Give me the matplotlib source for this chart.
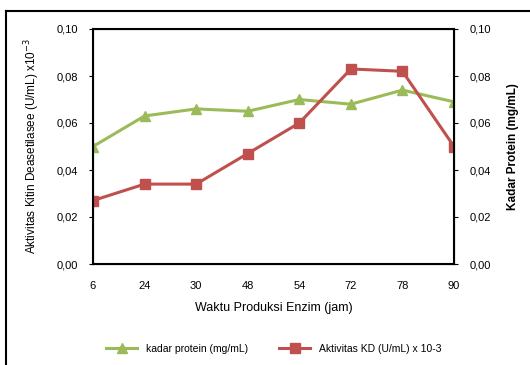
import matplotlib
matplotlib.use("Agg")
import matplotlib.pyplot as plt
from matplotlib.lines import Line2D

plt.rcParams['font.family'] = ['Liberation Sans', 'DejaVu Sans']

# data
jam = ['6', '24', '30', '48', '54', '72', '78', '90']
kadar_protein = [0.050, 0.063, 0.066, 0.065, 0.070, 0.068, 0.074, 0.069]
aktivitas_kd = [0.027, 0.034, 0.034, 0.047, 0.060, 0.083, 0.082, 0.050]
yticks = [0.00, 0.02, 0.04, 0.06, 0.08, 0.10]
ytick_labels = ['0,00', '0,02', '0,04', '0,06', '0,08', '0,10']

green = '#9BBB59'
red = '#C0504D'

fig = plt.figure(figsize=(5.3, 3.65), dpi=100)
# outer frame: only the top and left edges are inside the scan
top = 1 - 11 / 365
left = 6 / 530
fig.add_artist(Line2D([left, 1.0], [top, top], transform=fig.transFigure,
                      color='black', linewidth=1.5))
fig.add_artist(Line2D([left, left], [0.0, top], transform=fig.transFigure,
                      color='black', linewidth=1.5))

ax = fig.add_axes([93 / 530, 101 / 365, 361 / 530, 235 / 365])
x = range(len(jam))
ax.plot(x, kadar_protein, color=green, marker='^', markersize=7, linewidth=2.2,
        label='kadar protein (mg/mL)')
ax.plot(x, aktivitas_kd, color=red, marker='s', markersize=7, linewidth=2.2,
        label='Aktivitas KD (U/mL) x 10-3')

ax.set_xlim(0, len(jam) - 1)
ax.set_ylim(0, 0.10)
ax.set_xticks(list(x))
ax.set_xticklabels(jam, fontsize=8)
ax.set_yticks(yticks)
ax.set_yticklabels(ytick_labels, fontsize=8)
ax.tick_params(axis='x', length=0, pad=12)
ax.tick_params(axis='y', length=3, pad=8)
for s in ax.spines.values():
    s.set_linewidth(1.5)
ax.set_xlabel('Waktu Produksi Enzim (jam)', fontsize=9, labelpad=8)
ax.set_ylabel('Aktivitas Kitin Deasetilasee (U/mL) x10$^{-3}$', fontsize=8.5, labelpad=10)

ax2 = ax.twinx()
ax2.set_ylim(0, 0.10)
ax2.set_yticks(yticks)
ax2.set_yticklabels(ytick_labels, fontsize=8)
ax2.tick_params(axis='y', length=3, pad=8)
ax2.set_ylabel('Kadar Protein (mg/mL)', fontsize=8.5, fontweight='bold', labelpad=12)

ax.legend(loc='center', bbox_to_anchor=(0.5, -0.36), ncol=2, frameon=False,
          fontsize=7.5, handlelength=3, columnspacing=3)

fig.savefig('out.png', dpi=100)
